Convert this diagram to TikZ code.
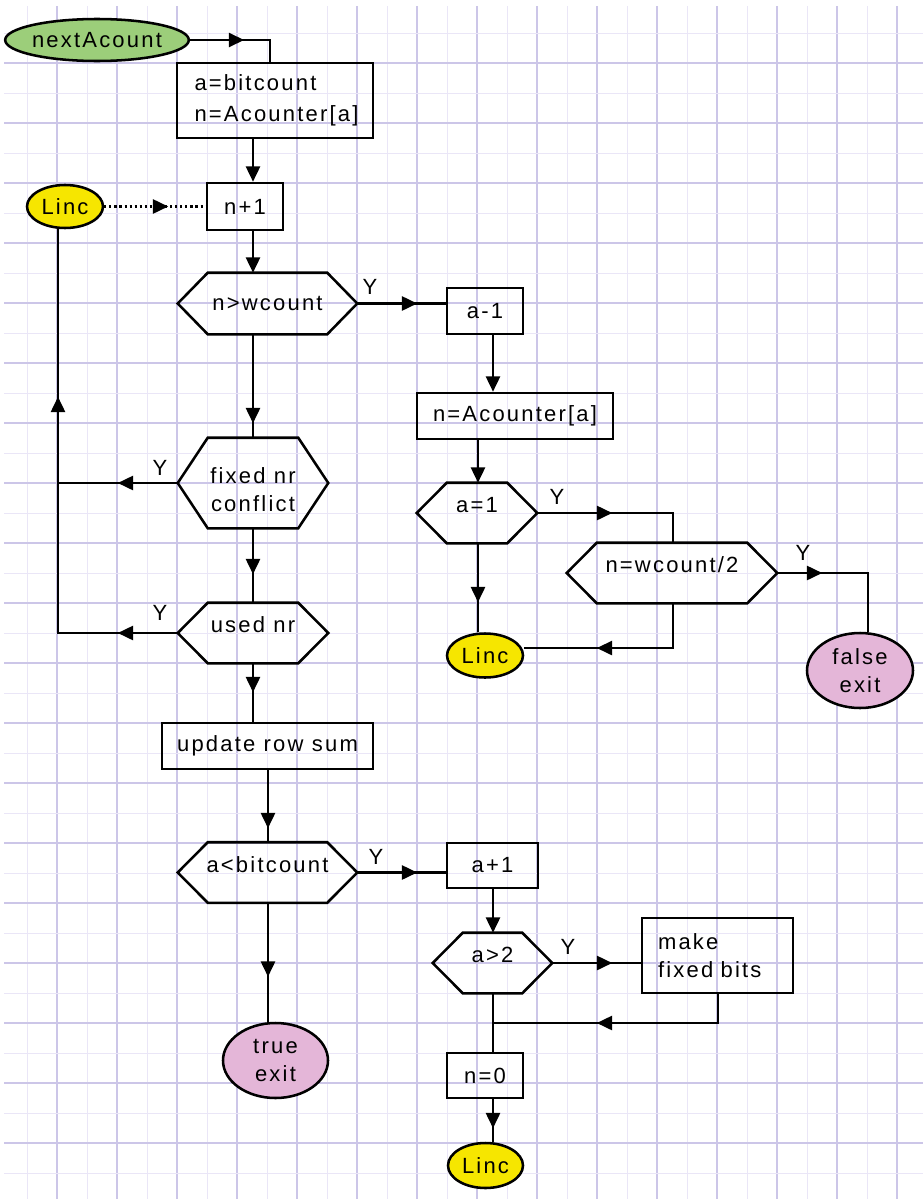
\documentclass[tikz,border=0pt]{standalone}
\usepackage{fontspec}
\setmainfont{Liberation Sans}[LetterSpace=10]
\usetikzlibrary{shapes.geometric,arrows.meta,decorations.markings}
\definecolor{gridA}{RGB}{234,230,247}
\definecolor{gridB}{RGB}{204,198,232}
\definecolor{startgreen}{RGB}{156,206,122}
\definecolor{lincyellow}{RGB}{246,230,0}
\definecolor{exitpink}{RGB}{228,182,216}
\newcommand\upt[1]{\raisebox{6pt}[\height][\depth]{#1}}
\newcommand\hexo[1]{\draw[shapeline] (#1.west) -- ([shift={(30,0)}]#1.north west) -- ([shift={(-30,0)}]#1.north east) -- (#1.east) -- ([shift={(-30,0)}]#1.south east) -- ([shift={(30,0)}]#1.south west) -- cycle;}
\pgfdeclarelayer{gridlayer}
\pgfdeclarelayer{linelayer}
\pgfsetlayers{gridlayer,linelayer,main}
\begin{document}
\begin{tikzpicture}[x=0.75pt,y=-0.75pt,
  every node/.style={font=\fontsize{16.5pt}{21pt}\selectfont, inner sep=0pt},
  shapeline/.style={line width=1.9pt, line join=miter},
  proc/.style={draw, line width=1.9pt, rectangle},
  hexn/.style={rectangle},
  term/.style={ellipse, draw, line width=1.9pt},
  conn/.style={line width=1.9pt},
  endtip/.style={-{Triangle[length=11.5pt,width=10.5pt]}},
  dotline/.style={dash pattern=on 1.6pt off 2.2pt},
  marrow/.style={postaction={decorate,decoration={markings,mark=at position #1*0.75pt with {\arrow{Triangle[length=11.5pt,width=10.5pt]}}}}},
  marrowtwo/.style 2 args={postaction={decorate,decoration={markings,
     mark=at position #1*0.75pt with {\arrow{Triangle[length=11.5pt,width=10.5pt]}},
     mark=at position #2*0.75pt with {\arrow{Triangle[length=11.5pt,width=10.5pt]}}}}},
  ylab/.style={font=\fontsize{16.5pt}{21pt}\selectfont},
  wd/.style={minimum width=#1*0.75pt},
  ht/.style={minimum height=#1*0.75pt}
]
\useasboundingbox (0,0) rectangle (923,1199);
\begin{pgfonlayer}{gridlayer}
  \fill[white] (0,0) rectangle (923,1199);
  \foreach \k in {0,...,30}{
    \pgfmathtruncatemacro\xx{27+30*\k}
    \ifodd\k \draw[gridB,line width=0.8pt] (\xx,6) -- (\xx,1199);
    \else \draw[gridA,line width=0.75pt] (\xx,6) -- (\xx,1199); \fi}
  \foreach \k in {0,...,39}{
    \pgfmathtruncatemacro\yy{33+30*\k}
    \ifodd\k \draw[gridB,line width=0.8pt] (4,\yy) -- (923,\yy);
    \else \draw[gridA,line width=0.75pt] (4,\yy) -- (923,\yy); \fi}
\end{pgfonlayer}

% column / row helper coordinates
\coordinate (colA) at (253,0);
\coordinate (colB) at (268,0);
\coordinate (colC) at (493,0);
\coordinate (colD) at (478,0);
\coordinate (colE) at (673,0);
\coordinate (colF) at (868,0);
\coordinate (colG) at (718,0);
\coordinate (colH) at (270,0);
\coordinate (loop) at (58,0);
\coordinate (j3) at (493,1023);

% nodes
\node[term, fill=startgreen, wd=168, ht=42] (start) at (97,40) {nextAcount};
\node[proc, wd=196, ht=75, text width=120.75pt, align=left] (box1) at (275,100.5) {a=bitcount\\[2pt]n=Acounter[a]};
\node[proc, wd=76, ht=47] (n1) at (245,206.5) {n+1};
\node[term, fill=lincyellow, wd=76, ht=43] (linc1) at (65,206.5) {Linc};
\node[hexn, wd=179, ht=61] (h1) at (267.5,303.5) {n>wcount};
\node[proc, wd=76, ht=46] (am1) at (485,311) {a-1};
\node[proc, wd=196, ht=46] (nA) at (515,416) {n=Acounter[a]};
\node[hexn, wd=120, ht=60] (aeq1) at (477,513) {\upt{a=1}};
\node[hexn, wd=210, ht=60] (hw2) at (672,573) {\upt{n=wcount/2}};
\node[term, fill=lincyellow, wd=76, ht=44] (linc2) at (485,655.5) {Linc};
\node[term, fill=exitpink, wd=106, ht=75, align=center] (fexit) at (860,670.5) {false\\exit};
\node[hexn, wd=150, ht=90] (fixed) at (253,483) {\raisebox{-7pt}[\height][\depth]{\begin{tabular}{@{}c@{}}fixed nr\\conflict\end{tabular}}};
\node[hexn, wd=150, ht=60] (used) at (253,633) {\upt{used nr}};
\node[proc, wd=211, ht=46] (upd) at (267.5,746) {update row sum};
\node[hexn, wd=179, ht=60] (ab) at (267.5,872.5) {\upt{a<bitcount}};
\node[proc, wd=91, ht=45] (ap1) at (492.5,865.5) {a+1};
\node[hexn, wd=119, ht=60] (agt2) at (492.5,963) {\upt{a>2}};
\node[proc, wd=151, ht=75, text width=89.25pt, align=left] (mfb) at (717.5,955.5) {make\\fixed bits};
\node[proc, wd=76, ht=45] (n0) at (485,1075.5) {n=0};
\node[term, fill=lincyellow, wd=75, ht=45] (linc3) at (485.5,1165.5) {Linc};
\node[term, fill=exitpink, wd=105, ht=75, align=center] (texit) at (275.5,1060.5) {true\\exit};

\hexo{h1}
\hexo{aeq1}
\hexo{hw2}
\hexo{fixed}
\hexo{used}
\hexo{ab}
\hexo{agt2}

% Y labels
\node[ylab] (y1) at (370,287) {Y};
\node[ylab] (y2) at (160,468) {Y};
\node[ylab] (y3) at (160,613) {Y};
\node[ylab] (y4) at (557,497) {Y};
\node[ylab] (y5) at (803,553) {Y};
\node[ylab] (y6) at (376,857) {Y};
\node[ylab] (y7) at (568,947) {Y};

% connectors
\begin{pgfonlayer}{linelayer}
\draw[conn, marrow=54] (start.east) -| (box1.north -| colH);
\draw[conn, endtip] (box1.south -| colA) -- (n1.north -| colA);
\draw[conn, dotline, marrow=64] (linc1.east) -- (n1.west);
\draw[conn, endtip] (n1.south -| colA) -- (h1.north -| colA);
\draw[conn, marrow=60] (h1.east) -- (h1.east -| am1.west);
\draw[conn, endtip] (am1.south -| colC) -- (nA.north -| colC);
\draw[conn, endtip] (nA.south -| colD) -- (aeq1.north -| colD);
\draw[conn, marrow=75] (aeq1.east) -| (hw2.north -| colE);
\draw[conn, marrow=45] (hw2.east) -| (fexit.north -| colF);
\draw[conn, marrow=59] (aeq1.south -| colD) -- (linc2.north -| colD);
\draw[conn, marrow=121] (hw2.south -| colE) |- ([yshift=5.6pt]linc2.east);
\draw[conn, marrow=89] (h1.south -| colA) -- (fixed.north -| colA);
\draw[conn, marrow=60] (fixed.west) -- (fixed.west -| loop);
\draw[conn, marrow=46] (fixed.south) -- (used.north);
\draw[conn, marrowtwo={60}{356}] (used.west) -| (linc1.south -| loop);
\draw[conn, marrow=29] (used.south) -- (upd.north -| colA);
\draw[conn, marrow=58] (upd.south -| colB) -- (ab.north -| colB);
\draw[conn, marrow=60] (ab.east) -- (ab.east -| ap1.west);
\draw[conn, endtip] (ap1.south -| colC) -- (agt2.north -| colC);
\draw[conn, marrow=60] (agt2.east) -- (agt2.east -| mfb.west);
\draw[conn, marrow=150] (mfb.south -| colG) |- (j3);
\draw[conn] (agt2.south -| colC) -- (n0.north -| colC);
\draw[conn, marrow=29] (n0.south -| colC) -- (linc3.north -| colC);
\draw[conn, marrow=74] (ab.south -| colB) -- (texit.north -| colB);
\end{pgfonlayer}
\end{tikzpicture}
\end{document}
